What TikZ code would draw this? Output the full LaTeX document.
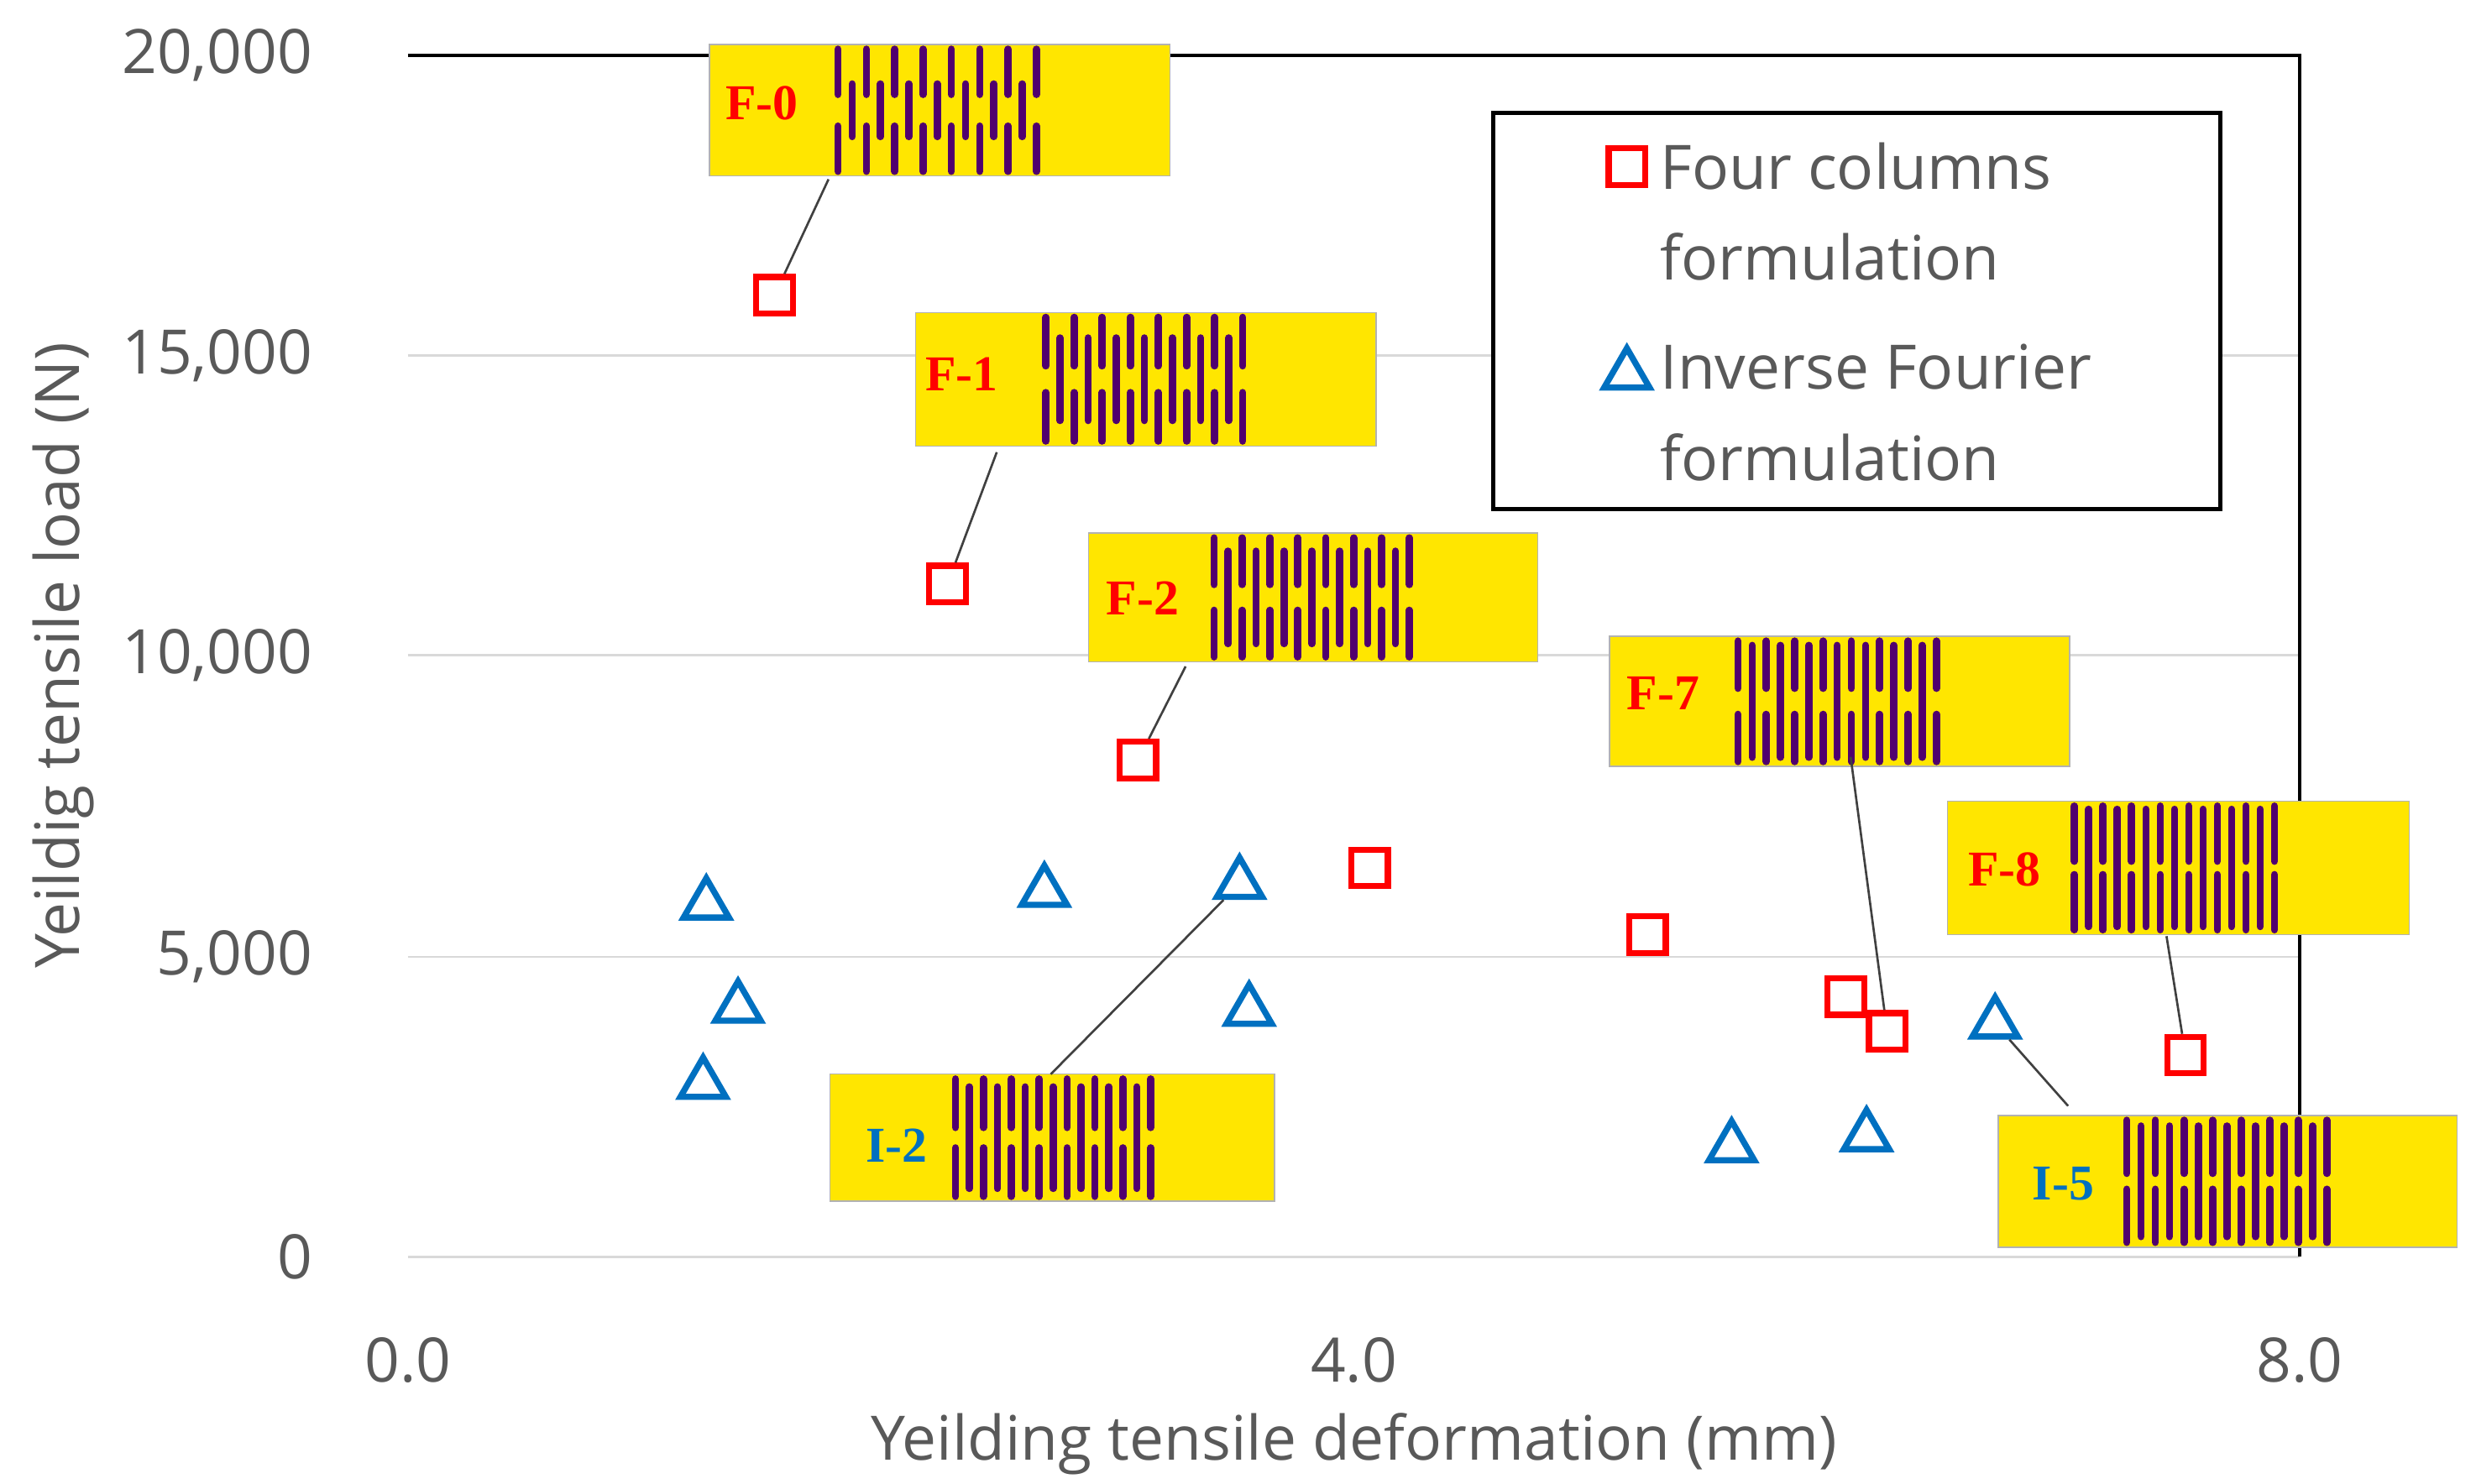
\documentclass[tikz,border=0pt]{standalone}
\usepackage{fontspec}
\usetikzlibrary{shapes.geometric}
\setmainfont{Open Sans}
\newfontfamily\tnr{Liberation Serif}
\begin{document}
\definecolor{axg}{RGB}{89,89,89}
\definecolor{gridg}{RGB}{217,217,217}
\definecolor{ired}{RGB}{255,0,0}
\definecolor{iblue}{RGB}{0,112,192}
\definecolor{pyel}{RGB}{255,230,0}
\definecolor{ppur}{RGB}{80,0,110}
\begin{tikzpicture}[x=0.02cm,y=-0.02cm,
  tick/.style={text=axg,font=\fontsize{22}{26}\selectfont},
  legt/.style={text=axg,font=\fontsize{22}{26}\selectfont,anchor=west},
  sq/.style={draw=ired,line width=2.2pt,fill=white,minimum size=0.46cm,inner sep=0},
  tri/.style={draw=iblue,line width=2.2pt,fill=white,regular polygon,regular polygon sides=3,minimum size=0.66cm,inner sep=0},
  leader/.style={draw=black!75,line width=0.8pt},
  plab/.style={font=\tnr\bfseries\fontsize{18}{20}\selectfont},
  slit/.style={draw=ppur,line width=2.6pt,line cap=round}]
\useasboundingbox (0,0) rectangle (1560,935);
% grid
\foreach \y in {224,413,603} \draw[gridg,line width=0.8pt] (257,\y) -- (1449,\y);
\draw[gridg,line width=0.8pt] (257,792) -- (1449,792);
\draw[black,line width=1.2pt] (257,35) -- (1449,35) -- (1449,792);
% ticks
\node[tick,anchor=east] (t0) at (203,35) {20,000};
\node[tick,anchor=east] (t1) at (203,224) {15,000};
\node[tick,anchor=east] (t2) at (203,413) {10,000};
\node[tick,anchor=east] (t3) at (203,603) {5,000};
\node[tick,anchor=east] (t4) at (203,792) {0};
\node[tick] (x0) at (257,857) {0.0};
\node[tick] (x1) at (853,857) {4.0};
\node[tick] (x2) at (1449,857) {8.0};
\node[tick] (xt) at (853,910) {Yeilding tensile deformation (mm)};
\node[tick,rotate=90] (yt) at (40,413) {Yeildig tensile load (N)};
% legend
\draw[black,line width=1.5pt,fill=white] (941,71) rectangle (1399,321);
\node[sq] (lg1) at (1025,105) {};
\node[legt] (lt1) at (1040,105) {Four columns};
\node[legt] (lt2) at (1040,162) {formulation};
\node[tri] (lg2) at (1025,236) {};
\node[legt] (lt3) at (1040,231) {Inverse Fourier};
\node[legt] (lt4) at (1040,288) {formulation};
% panel macro
\newcommand{\mypanel}[8]{%
  \fill[pyel] (#1,#2) rectangle (#3,#4);
  \draw[black!30,line width=0.4pt] (#1,#2) rectangle (#3,#4);
  \pgfmathsetmacro{\hh}{#4-#2}
  \pgfmathsetmacro{\dx}{(#6-#5)/7}
  \foreach \i in {0,...,7}{
    \pgfmathsetmacro{\xx}{#5+\i*\dx}
    \draw[slit] (\xx,#2+3) -- (\xx,{#2+#7*\hh});
    \draw[slit] (\xx,#4-3) -- (\xx,{#4-#7*\hh});
  }
  \foreach \i in {0,...,6}{
    \pgfmathsetmacro{\xx}{#5+(\i+0.5)*\dx}
    \draw[slit] (\xx,{#2+(0.5-#8/2)*\hh}) -- (\xx,{#2+(0.5+#8/2)*\hh});
  }}
% points
\node[sq] (s1) at (488,186) {};
\node[sq] (s2) at (597,368) {};
\node[sq] (s3) at (717,479) {};
\node[sq] (s4) at (863,547) {};
\node[sq] (s5) at (1038,589) {};
\node[sq] (s6) at (1163,628) {};
\node[sq] (s7) at (1189,650) {};
\node[sq] (s8) at (1377,665) {};
\node[tri] (b1) at (445,570) {};
\node[tri] (b2) at (465,635) {};
\node[tri] (b3) at (443,683) {};
\node[tri] (b4) at (658,562) {};
\node[tri] (b5) at (781,557) {};
\node[tri] (b6) at (787,637) {};
\node[tri] (b7) at (1091,723) {};
\node[tri] (b8) at (1176,716) {};
\node[tri] (b9) at (1257,645) {};
% panels
\mypanel{447}{28}{737}{111}{528}{653}{0.38}{0.40}
\node[plab,text=ired] (l0) at (480,65) {F-0};
\mypanel{577}{197}{867}{281}{659}{783}{0.40}{0.62}
\node[plab,text=ired] (l1) at (606,236) {F-1};
\mypanel{686}{336}{969}{417}{765}{888}{0.40}{0.72}
\node[plab,text=ired] (l2) at (720,377) {F-2};
\mypanel{1014}{401}{1304}{483}{1095}{1220}{0.40}{0.86}
\node[plab,text=ired] (l7) at (1048,437) {F-7};
\mypanel{1227}{505}{1518}{589}{1307}{1433}{0.45}{0.88}
\node[plab,text=ired] (l8) at (1263,548) {F-8};
\mypanel{523}{677}{803}{757}{602}{725}{0.42}{0.80}
\node[plab,text=iblue] (li2) at (565,722) {I-2};
\mypanel{1259}{703}{1548}{786}{1340}{1466}{0.44}{0.84}
\node[plab,text=iblue] (li5) at (1300,746) {I-5};
\coordinate (a0) at (522,113);
\coordinate (a1) at (628,285);
\coordinate (a2) at (747,420);
\coordinate (a7) at (1166,477);
\coordinate (a8) at (1365,590);
\coordinate (ai2) at (662,677);
\coordinate (ai5) at (1303,697);
\draw[leader] (a0) -- (s1);
\draw[leader] (a1) -- (s2);
\draw[leader] (a2) -- (s3);
\draw[leader] (a7) -- (s7);
\draw[leader] (a8) -- (s8);
\draw[leader] (ai2) -- (b5);
\draw[leader] (ai5) -- (b9);
\end{tikzpicture}
\end{document}
